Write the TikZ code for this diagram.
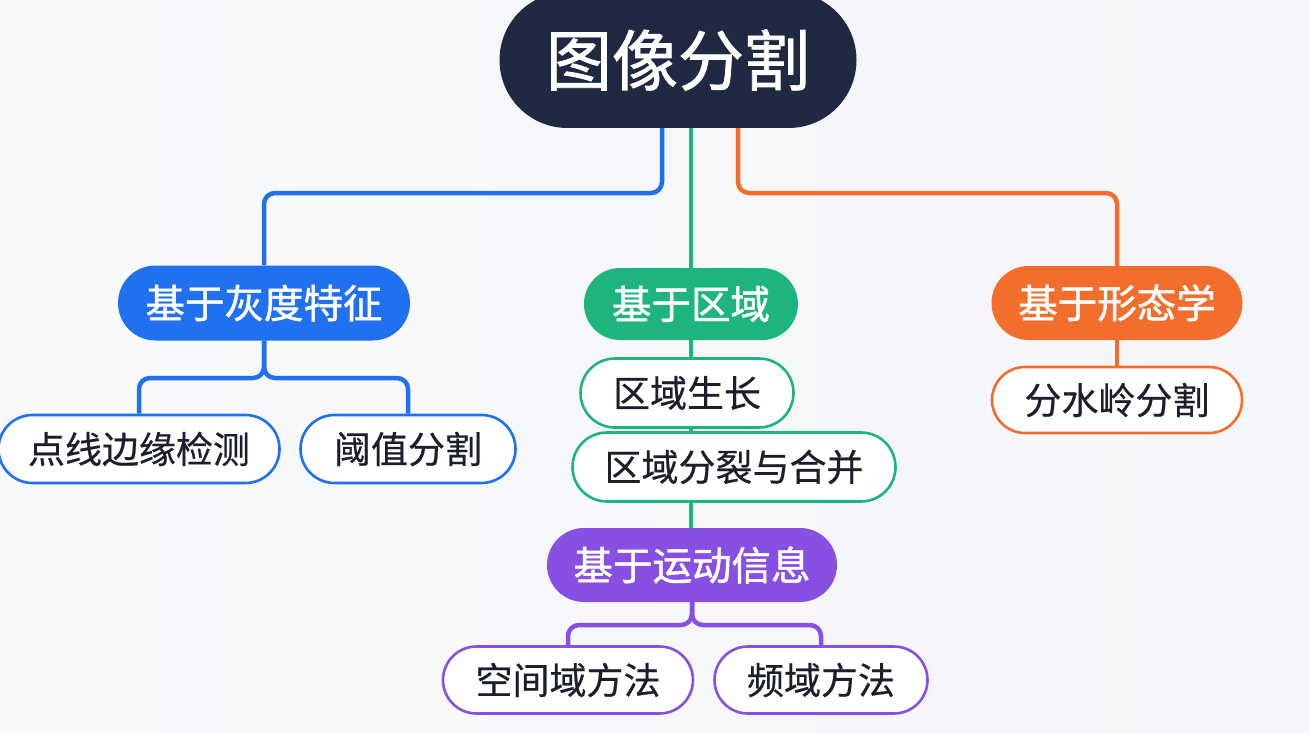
\documentclass[tikz,border=0pt]{standalone}
\usepackage{fontspec}
\newfontfamily\cjk{Noto Sans CJK SC}
\newfontfamily\cjkm[FakeBold=1.2]{Noto Sans CJK SC}
\newfontfamily\cjkl[FakeBold=0.5]{Noto Sans CJK SC}
\usetikzlibrary{shapes.misc,backgrounds}
\definecolor{bgc}{HTML}{F3F5F8}
\definecolor{bgl}{HTML}{F8F9FB}
\definecolor{rootc}{HTML}{1F2942}
\definecolor{bluec}{HTML}{2170F0}
\definecolor{greenc}{HTML}{1DB57C}
\definecolor{orangec}{HTML}{F36E2C}
\definecolor{purplec}{HTML}{8750E3}
\definecolor{txtc}{HTML}{1B1F2B}
\tikzset{
  pill/.style={rounded rectangle, inner sep=0pt},
  boldsize/.style={font={\cjkm\fontsize{#1pt}{#1pt}\selectfont}},
  lightsize/.style={font={\cjkl\fontsize{#1pt}{#1pt}\selectfont}},
  cat/.style={pill, text=white, boldsize=39.5},
  leaf/.style={pill, fill=white, line width=2.6pt, text=txtc, lightsize=37},
  conn/.style={line width=4.5pt, rounded corners=11pt},
}
\begin{document}
\begin{tikzpicture}[x=1pt,y=-1pt]
\useasboundingbox (0,0) rectangle (1309,733);
% nodes
\node[pill, fill=rootc, text=white, boldsize=66, minimum width=357pt, minimum height=136pt] (root) at (678,60) {图像分割};
\node[cat, fill=bluec, minimum width=292pt, minimum height=75pt] (gray) at (264,303) {基于灰度特征};
\node[cat, fill=greenc, minimum width=214pt, minimum height=72pt] (region) at (691,304) {基于区域};
\node[cat, fill=orangec, minimum width=251pt, minimum height=74pt] (morph) at (1117,303) {基于形态学};
\node[cat, fill=purplec, minimum width=290pt, minimum height=74pt] (motion) at (692,565) {基于运动信息};
\node[leaf, draw=bluec, minimum width=281pt, minimum height=68pt] (edge) at (139,449) {点线边缘检测};
\node[leaf, draw=bluec, minimum width=215pt, minimum height=68pt] (thresh) at (408,449) {阈值分割};
\node[leaf, draw=greenc, minimum width=213pt, minimum height=69pt] (grow) at (687,393) {区域生长};
\node[leaf, draw=greenc, minimum width=323pt, minimum height=69pt] (split) at (734,467) {区域分裂与合并};
\node[leaf, draw=orangec, minimum width=250pt, minimum height=66pt] (water) at (1117,400) {分水岭分割};
\node[leaf, draw=purplec, minimum width=250pt, minimum height=67pt] (space) at (568,680) {空间域方法};
\node[leaf, draw=purplec, minimum width=213pt, minimum height=67pt] (freq) at (821,680) {频域方法};
% junction coordinates
\coordinate (bj) at (662,193);
\coordinate (oj) at (738,193);
\coordinate (gj) at (264,378);
\coordinate (mj) at (692,625);
\begin{pgfonlayer}{background}
  \shade[left color=bgl, right color=bgc] (0,0) rectangle (1309,733);
  \draw[conn, bluec] (root.south -| bj) -- (bj) -| (gray.north);
  \draw[conn, orangec] (root.south -| oj) -- (oj) -| (morph.north);
  \draw[conn, greenc] (root.south -| region.north) -- (motion.north -| region.north);
  \draw[conn, bluec] (gray.south) -- (gj) -| (edge.north);
  \draw[conn, bluec] (gray.south) -- (gj) -| (thresh.north);
  \draw[conn, orangec] (morph.south) -- (water.north);
  \draw[conn, purplec] (motion.south) -- (mj) -| (space.north);
  \draw[conn, purplec] (motion.south) -- (mj) -| (freq.north);
\end{pgfonlayer}
\end{tikzpicture}
\end{document}
